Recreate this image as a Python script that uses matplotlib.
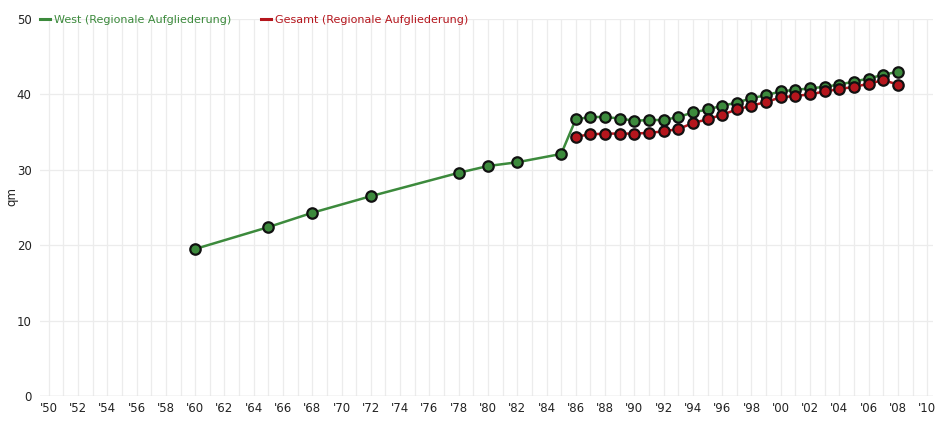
import matplotlib
matplotlib.use('Agg')
import matplotlib.pyplot as plt
from matplotlib.ticker import MultipleLocator, FuncFormatter

# Wohnfläche je Person (qm)
years_west = [1960, 1965, 1968, 1972, 1978, 1980, 1982, 1985,
              1986, 1987, 1988, 1989, 1990, 1991, 1992, 1993, 1994, 1995, 1996, 1997,
              1998, 1999, 2000, 2001, 2002, 2003, 2004, 2005, 2006, 2007, 2008]
west = [19.5, 22.4, 24.3, 26.5, 29.6, 30.5, 31.0, 32.1,
        36.7, 37.0, 37.0, 36.8, 36.5, 36.6, 36.6, 37.0, 37.6, 38.0, 38.5, 38.9,
        39.5, 39.9, 40.4, 40.6, 40.8, 41.0, 41.3, 41.7, 42.1, 42.6, 43.0]

years_total = list(range(1986, 2009))
total = [34.4, 34.7, 34.8, 34.8, 34.8, 34.9, 35.1, 35.4, 36.2, 36.7, 37.3, 38.0,
         38.5, 39.0, 39.6, 39.8, 40.0, 40.4, 40.7, 41.0, 41.4, 41.9, 41.3]

labels = ['West (Regionale Aufgliederung)', 'Gesamt (Regionale Aufgliederung)']
colors = ['#3c8a3c', '#b5161d']

plt.rcParams['font.family'] = ['DejaVu Sans']

fig = plt.figure(figsize=(9.41, 4.22), dpi=100)
ax = fig.add_axes([0.0425, 0.0616, 0.949, 0.8934])

for x, y, lab, col in [(years_west, west, labels[0], colors[0]),
                       (years_total, total, labels[1], colors[1])]:
    ax.plot(x, y, color=col, lw=1.8, label=lab, marker='o', markersize=7.5,
            markerfacecolor=col, markeredgecolor='#111111', markeredgewidth=1.6,
            zorder=3)

ax.set_xlim(1949.4, 2010.4)
ax.set_ylim(0, 50)
ax.xaxis.set_major_locator(MultipleLocator(2))
ax.xaxis.set_minor_locator(MultipleLocator(1))
ax.yaxis.set_major_locator(MultipleLocator(10))
ax.xaxis.set_major_formatter(FuncFormatter(lambda v, p: "'%02d" % (int(round(v)) % 100)))

ax.grid(True, which='both', axis='x', color='#ececec', lw=0.9)
ax.grid(True, which='major', axis='y', color='#ececec', lw=0.9)
ax.set_axisbelow(True)
for s in ax.spines.values():
    s.set_visible(False)
ax.axhline(0, color='#dddddd', lw=1, zorder=1)
ax.tick_params(which='both', length=0, labelsize=8.5, colors='#222222', pad=4)
ax.tick_params(axis='y', pad=6)
ax.set_ylabel('qm', fontsize=8.5, color='#222222')
ax.yaxis.set_label_coords(-0.024, 0.53)

leg = ax.legend(loc='lower left', bbox_to_anchor=(0.0, 0.985), ncol=2, frameon=False,
                fontsize=8, handlelength=0.9, handletextpad=0.4, columnspacing=2.6,
                borderaxespad=0, borderpad=0)
for h, t, col in zip(leg.get_lines(), leg.get_texts(), colors):
    h.set_marker('')
    h.set_linewidth(2.2)
    t.set_color(col)

fig.savefig('out.png', dpi=100)
